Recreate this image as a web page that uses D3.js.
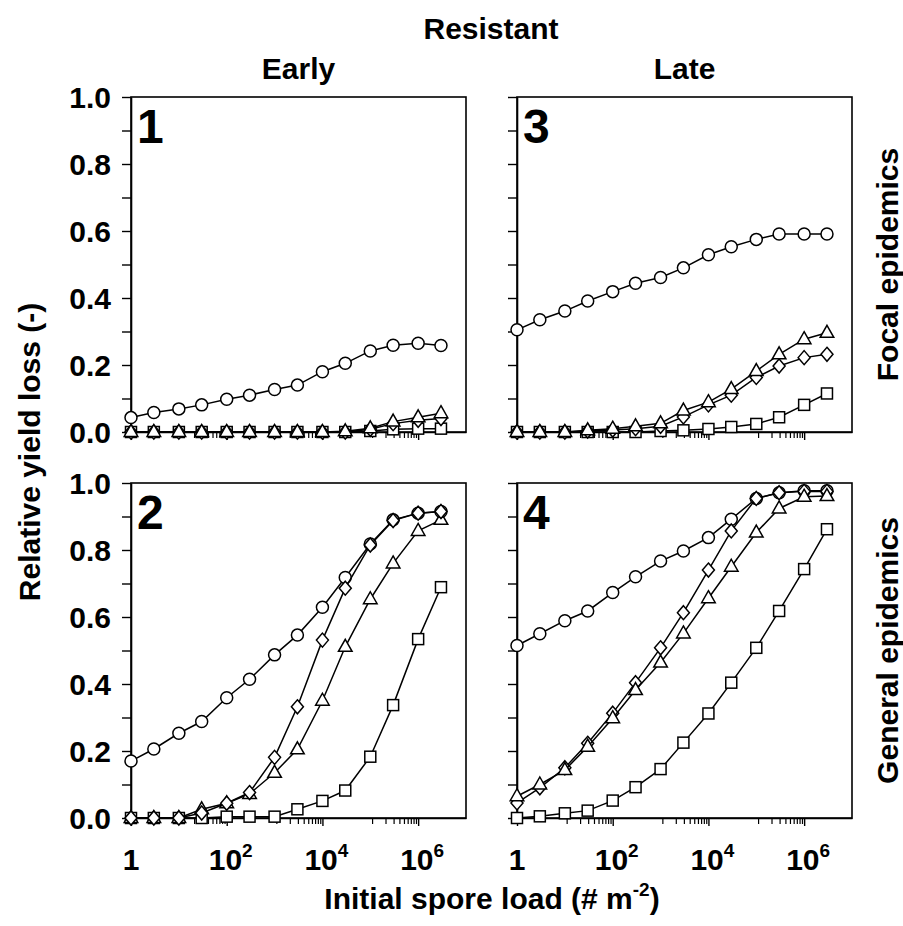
<!DOCTYPE html>
<html>
<head>
<meta charset="utf-8">
<script src="https://cdn.jsdelivr.net/npm/d3@7"></script>
<style>
  body { margin: 0; background: #fff; }
  text { font-family: "Liberation Sans", Arial, sans-serif; font-weight: bold; fill: #000; }
</style>
</head>
<body>
<svg id="canvas"></svg>
<script>
// spore loads (# m-2)
let sporeLoad = [1, 3, 10, 30, 100, 300, 1e3, 3e3, 1e4, 3e4, 1e5, 3e5, 1e6, 3e6]

// panel 1 : early, focal
let p1Circle   = [0.043, 0.058, 0.069, 0.081, 0.098, 0.110, 0.127, 0.140, 0.180, 0.205, 0.242, 0.259, 0.265, 0.258]
let p1Diamond  = [0, 0, 0, 0, 0, 0, 0, 0, 0, 0, 0.008, 0.025, 0.035, 0.040]
let p1Triangle = [0, 0, 0, 0, 0, 0, 0, 0, 0, 0.002, 0.011, 0.031, 0.044, 0.056]
let p1Square   = [0, 0, 0, 0, 0, 0, 0, 0, 0, 0, 0.003, 0.008, 0.010, 0.010]

// panel 2 : early, general
let p2Circle   = [0.170, 0.206, 0.253, 0.288, 0.359, 0.414, 0.487, 0.546, 0.629, 0.718, 0.818, 0.890, 0.910, 0.915]
let p2Diamond  = [0, 0, 0, 0.015, 0.044, 0.076, 0.181, 0.332, 0.531, 0.686, 0.815, 0.888, 0.910, 0.915]
let p2Triangle = [0, 0, 0, 0.026, 0.044, 0.072, 0.135, 0.205, 0.350, 0.511, 0.653, 0.760, 0.857, 0.890]
let p2Square   = [0, 0, 0, 0, 0.004, 0.004, 0.004, 0.026, 0.051, 0.082, 0.183, 0.337, 0.534, 0.689]

// panel 3 : late, focal
let p3Circle   = [0.305, 0.335, 0.361, 0.391, 0.419, 0.444, 0.461, 0.490, 0.529, 0.553, 0.575, 0.591, 0.591, 0.591]
let p3Diamond  = [0, 0, 0, 0.003, 0.006, 0.010, 0.017, 0.045, 0.081, 0.110, 0.163, 0.197, 0.222, 0.232]
let p3Triangle = [0, 0, 0, 0.005, 0.010, 0.017, 0.026, 0.064, 0.089, 0.128, 0.182, 0.232, 0.277, 0.296]
let p3Square   = [0, 0, 0, 0, 0, 0, 0.003, 0.005, 0.009, 0.015, 0.024, 0.044, 0.081, 0.115]

// panel 4 : late, general
let p4Circle   = [0.515, 0.550, 0.589, 0.618, 0.673, 0.720, 0.767, 0.797, 0.837, 0.892, 0.954, 0.971, 0.977, 0.977]
let p4Diamond  = [0.045, 0.090, 0.150, 0.223, 0.313, 0.404, 0.508, 0.613, 0.740, 0.857, 0.954, 0.971, 0.975, 0.975]
let p4Triangle = [0.065, 0.100, 0.143, 0.213, 0.298, 0.382, 0.464, 0.551, 0.656, 0.750, 0.852, 0.924, 0.959, 0.961]
let p4Square   = [0, 0.005, 0.014, 0.022, 0.052, 0.092, 0.146, 0.225, 0.312, 0.404, 0.508, 0.618, 0.743, 0.862]

let yTicks = [0, 0.1, 0.2, 0.3, 0.4, 0.5, 0.6, 0.7, 0.8, 0.9, 1.0]
let xMajor = [1, 1e2, 1e4, 1e6]
let xLabels = [["1", ""], ["10", "2"], ["10", "4"], ["10", "6"]]

let width = 903
let height = 926
let panelW = 335
let panelH = 335
let fs = 30

let canvas = d3.select("#canvas")
    .attr("width", width)
    .attr("height", height)

// minor ticks spread linearly inside each two-decade major interval
let xMinor = []
for (let m = 0; m < xMajor.length; m++) {
    let a = xMajor[m], b = a * 100
    for (let k = 1; k <= 9; k++) {
        let v = a + k * (b - a) / 10
        if (v < 1e7) xMinor.push(v)
    }
}

let shapes = {
    circle: g => g.append("circle").attr("r", 6),
    square: g => g.append("rect").attr("x", -5.5).attr("y", -5.5).attr("width", 11).attr("height", 11),
    triangle: g => g.append("path").attr("d", "M0,-7.5L6.8,4.5L-6.8,4.5Z"),
    diamond: g => g.append("path").attr("d", "M0,-7L6,0L0,7L-6,0Z")
}

let drawPanel = (left, top, num, series, showX, showY) => {
    let xScale = d3.scaleLog().domain([1, 1e7]).range([left, left + panelW])
    let yScale = d3.scaleLinear().domain([0, 1]).range([top + panelH, top])

    // frame
    canvas.append("rect")
        .attr("x", left).attr("y", top)
        .attr("width", panelW).attr("height", panelH)
        .attr("fill", "none").attr("stroke", "#000").attr("stroke-width", 1.6)

    let yAxis = d3.axisLeft(yScale).tickValues(yTicks).tickSize(9).tickSizeOuter(0)
        .tickFormat((d, i) => (showY && i % 2 === 0) ? d.toFixed(1) : "")
    let gy = canvas.append("g")
        .attr("transform", "translate(" + left + ",0)")
        .call(yAxis)
    gy.select(".domain").attr("stroke-width", 1.6)
    gy.selectAll(".tick line").attr("stroke-width", 1.4)
    gy.selectAll(".tick text").attr("font-size", fs).attr("x", -20).attr("dy", "0.36em")
        .style("font-family", "'Liberation Sans', Arial, sans-serif").style("font-weight", "bold")

    let gx = canvas.append("g")
        .attr("transform", "translate(0," + (top + panelH) + ")")
        .call(d3.axisBottom(xScale).tickValues(xMajor).tickSize(8).tickSizeOuter(0).tickFormat(""))
    gx.select(".domain").attr("stroke-width", 1.6)
    gx.selectAll(".tick line").attr("stroke-width", 1.4)
    canvas.append("g")
        .attr("transform", "translate(0," + (top + panelH) + ")")
        .call(d3.axisBottom(xScale).tickValues(xMinor).tickSize(6).tickSizeOuter(0).tickFormat(""))
        .call(g => g.select(".domain").remove())
        .selectAll(".tick line").attr("stroke-width", 1.2)

    if (showX) {
        xMajor.forEach((v, i) => {
            let t = canvas.append("text")
                .attr("x", xScale(v) + (i === 0 ? 0 : 4))
                .attr("y", top + panelH + 52)
                .attr("text-anchor", "middle")
                .attr("font-size", fs)
            t.append("tspan").text(xLabels[i][0])
            if (xLabels[i][1]) {
                t.append("tspan").attr("dy", -13).attr("font-size", 19).text(xLabels[i][1])
            }
        })
    }

    // series: lines then markers
    series.forEach(s => {
        let pts = sporeLoad.map((x, i) => [x, s.values[i]])
        canvas.append("path")
            .datum(pts)
            .attr("fill", "none")
            .attr("stroke", "#000")
            .attr("stroke-width", 1.5)
            .attr("d", d3.line().x(d => xScale(d[0])).y(d => yScale(d[1])))
        pts.forEach(d => {
            let g = canvas.append("g")
                .attr("transform", "translate(" + xScale(d[0]) + "," + yScale(d[1]) + ")")
            shapes[s.shape](g)
                .attr("fill", "#fff")
                .attr("stroke", "#000")
                .attr("stroke-width", 1.5)
        })
    })

    canvas.append("text")
        .attr("x", left + 6)
        .attr("y", top + 46)
        .attr("font-size", 48)
        .text(num)
}

let leftX = 131
let rightX = 517
let topY = 97
let botY = 483

drawPanel(leftX, topY, "1", [
    {shape: "square", values: p1Square},
    {shape: "diamond", values: p1Diamond},
    {shape: "triangle", values: p1Triangle},
    {shape: "circle", values: p1Circle}
], false, true)

drawPanel(leftX, botY, "2", [
    {shape: "square", values: p2Square},
    {shape: "triangle", values: p2Triangle},
    {shape: "circle", values: p2Circle},
    {shape: "diamond", values: p2Diamond}
], true, true)

drawPanel(rightX, topY, "3", [
    {shape: "square", values: p3Square},
    {shape: "diamond", values: p3Diamond},
    {shape: "triangle", values: p3Triangle},
    {shape: "circle", values: p3Circle}
], false, false)

drawPanel(rightX, botY, "4", [
    {shape: "square", values: p4Square},
    {shape: "circle", values: p4Circle},
    {shape: "diamond", values: p4Diamond},
    {shape: "triangle", values: p4Triangle}
], true, false)

// titles
canvas.append("text").attr("x", 491).attr("y", 39).attr("text-anchor", "middle")
    .attr("font-size", fs).text("Resistant")
canvas.append("text").attr("x", leftX + panelW / 2).attr("y", 79).attr("text-anchor", "middle")
    .attr("font-size", fs).text("Early")
canvas.append("text").attr("x", rightX + panelW / 2).attr("y", 79).attr("text-anchor", "middle")
    .attr("font-size", fs).text("Late")

canvas.append("text")
    .attr("transform", "translate(40," + 452 + ") rotate(-90)")
    .attr("text-anchor", "middle").attr("font-size", fs)
    .text("Relative yield loss (-)")

let xt = canvas.append("text").attr("x", 492).attr("y", 909).attr("text-anchor", "middle")
    .attr("font-size", fs)
xt.append("tspan").text("Initial spore load (# m")
xt.append("tspan").attr("dy", -13).attr("font-size", 19).text("-2")
xt.append("tspan").attr("dy", 13).text(")")

canvas.append("text")
    .attr("transform", "translate(898," + (topY + panelH / 2) + ") rotate(-90)")
    .attr("text-anchor", "middle").attr("font-size", fs)
    .text("Focal epidemics")
canvas.append("text")
    .attr("transform", "translate(898," + (botY + panelH / 2) + ") rotate(-90)")
    .attr("text-anchor", "middle").attr("font-size", fs)
    .text("General epidemics")
</script>
</body>
</html>
